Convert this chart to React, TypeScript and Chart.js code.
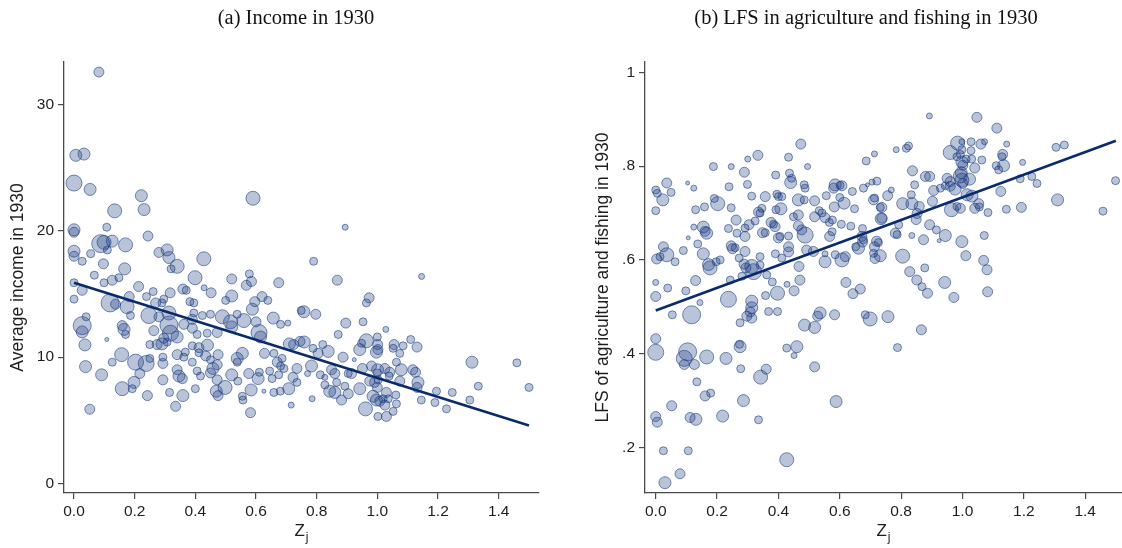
import { useEffect, useRef } from "react";
import { Chart, registerables } from "chart.js";

Chart.register(...registerables);

// Axis ticks
const Z_TICKS = [0, 0.2, 0.4, 0.6, 0.8, 1.0, 1.2, 1.4];
const INCOME_TICKS = [0, 10, 20, 30];
const LFS_TICKS = [0.2, 0.4, 0.6, 0.8, 1];

// Weighted linear fits, drawn over Z_j in [0, 1.5]
const FIT_RANGE = [0, 1.5];
const incomeFit = { intercept: 15.9, slope: -7.55 };
const lfsFit = { intercept: 0.492, slope: 0.2413 };

// [Z_j, average income in 1930, population weight]
const incomePoints: [number, number, number][] = [
  [0.082,32.6,25],[0.006,26.0,36],[0.033,26.1,36],[0.0,23.8,64],[0.053,23.3,36],[0.222,22.8,36],[0.59,22.6,49],[0.134,21.6,49],[0.231,21.7,36],[0.108,20.3,16],
  [0.0,20.1,36],[0.0,19.9,25],[0.244,19.6,25],[0.088,19.0,81],[0.099,19.1,49],[0.126,19.2,36],[0.17,18.9,49],[0.11,18.5,16],[0.0,18.4,36],[0.0,18.0,25],
  [0.027,17.6,16],[0.055,18.2,16],[0.28,18.3,25],[0.307,18.5,36],[0.313,17.9,36],[0.34,17.2,49],[0.32,17.0,16],[0.428,17.8,49],[0.097,17.4,25],[0.167,17.0,36],
  [0.067,16.5,16],[0.099,15.9,16],[0.126,16.1,25],[0.148,16.3,16],[0.399,16.3,49],[0.52,16.2,25],[0.578,16.6,16],[0.585,16.0,25],[0.568,15.7,25],[0.675,15.9,25],
  [0.0,15.9,16],[0.213,15.6,25],[0.027,15.3,25],[0.261,15.2,16],[0.317,15.1,25],[0.359,15.4,25],[0.37,15.3,16],[0.429,15.5,9],[0.452,15.1,25],[0.52,14.85,36],
  [0.5,14.5,16],[0.62,14.8,25],[0.639,14.5,16],[0.0,14.6,16],[0.119,14.3,81],[0.137,14.2,25],[0.175,14.0,49],[0.182,14.8,25],[0.239,14.8,16],[0.269,14.3,25],
  [0.29,14.3,16],[0.296,14.6,16],[0.382,14.4,16],[0.395,14.3,16],[0.588,13.8,36],[0.596,14.4,25],[0.749,13.7,16],[0.247,13.3,64],[0.28,13.2,25],[0.313,13.5,49],
  [0.313,12.55,81],[0.318,11.9,64],[0.34,11.6,36],[0.362,12.6,25],[0.39,13.0,25],[0.395,13.5,16],[0.423,13.3,16],[0.45,13.4,16],[0.489,13.2,49],[0.516,12.8,49],
  [0.52,12.4,36],[0.56,12.9,49],[0.538,13.4,16],[0.6,12.8,25],[0.657,13.1,36],[0.681,12.6,16],[0.705,12.7,9],[0.39,12.3,25],[0.406,11.8,16],[0.439,11.9,16],
  [0.472,11.95,25],[0.61,11.95,64],[0.615,11.6,36],[0.71,11.05,36],[0.724,11.0,25],[0.745,11.25,25],[0.027,12.5,81],[0.027,12.0,36],[0.04,13.2,16],[0.036,10.97,36],
  [0.108,11.4,4],[0.159,12.5,25],[0.165,12.2,36],[0.17,11.8,16],[0.186,13.3,16],[0.263,12.1,25],[0.296,11.5,25],[0.307,11.2,16],[0.25,11.0,16],[0.274,11.0,25],
  [0.29,11.05,36],[0.157,10.2,49],[0.126,9.6,16],[0.203,9.6,64],[0.238,9.5,64],[0.25,9.9,16],[0.293,9.5,25],[0.293,10.0,16],[0.34,10.2,25],[0.367,10.4,16],
  [0.362,10.0,16],[0.39,10.9,16],[0.412,10.75,25],[0.412,10.35,16],[0.434,10.1,25],[0.44,10.95,36],[0.45,9.8,16],[0.472,9.4,25],[0.475,10.2,25],[0.458,9.1,36],
  [0.39,9.6,16],[0.538,9.9,36],[0.555,10.3,36],[0.538,9.6,16],[0.628,10.3,25],[0.659,10.3,16],[0.67,9.6,25],[0.686,9.9,16],[0.692,9.1,16],[0.681,9.3,16],
  [0.735,9.1,25],[0.038,9.25,36],[0.091,8.6,36],[0.217,8.7,25],[0.293,8.2,25],[0.34,9.0,25],[0.346,8.5,36],[0.357,8.3,25],[0.417,8.5,16],[0.406,8.9,16],
  [0.45,8.75,25],[0.472,8.2,25],[0.52,8.6,36],[0.54,8.1,16],[0.576,8.7,25],[0.607,8.3,36],[0.611,8.8,16],[0.645,8.9,16],[0.653,8.3,16],[0.675,8.6,16],
  [0.722,8.4,25],[0.735,8.0,16],[0.159,7.5,49],[0.192,7.5,16],[0.198,8.0,36],[0.242,6.95,25],[0.315,7.2,16],[0.359,6.95,36],[0.4,7.5,16],[0.469,7.3,36],
  [0.475,6.95,25],[0.498,7.6,49],[0.555,6.9,16],[0.557,6.6,16],[0.584,7.4,36],[0.626,7.3,4],[0.659,7.2,16],[0.68,7.3,16],[0.708,7.5,36],[0.716,6.2,9],
  [0.335,6.1,25],[0.052,5.87,25],[0.582,5.6,25],
  [0.894,20.3,9],[0.79,17.6,16],[0.868,16.1,25],[1.146,16.4,9],[0.973,14.7,25],[0.964,14.3,16],[0.758,13.6,36],[0.797,13.4,25],[0.896,12.7,25],[0.953,12.8,16],
  [0.871,11.8,16],[1.028,12.2,9],[0.964,11.3,49],[0.948,11.1,16],[1.0,11.6,16],[1.001,11.0,25],[0.997,10.4,36],[1.002,10.6,25],[0.759,11.2,36],[0.82,11.0,16],
  [0.838,10.45,36],[0.805,10.3,25],[0.788,10.7,16],[1.055,11.0,25],[1.052,10.7,16],[1.085,10.9,16],[1.074,10.3,16],[1.11,11.4,16],[1.131,10.8,25],[0.887,10.0,25],
  [0.924,9.8,4],[0.942,10.6,36],[0.783,9.3,36],[0.77,8.7,9],[0.849,9.0,25],[0.86,8.7,25],[0.827,8.4,9],[0.915,8.7,25],[0.904,8.7,16],[0.951,9.1,25],
  [0.981,9.3,25],[1.001,9.0,36],[1.0,8.75,16],[1.025,9.1,25],[1.041,8.8,25],[1.063,9.6,16],[1.079,9.0,36],[1.117,9.0,25],[1.126,8.8,25],[1.134,8.0,36],
  [1.131,7.6,25],[1.039,8.5,16],[1.074,8.1,25],[0.975,8.1,25],[0.991,8.0,25],[1.0,7.6,25],[1.003,8.2,16],[0.827,7.8,16],[0.843,7.3,36],[0.86,7.2,36],
  [0.904,7.1,25],[0.882,6.6,25],[0.893,7.7,16],[0.942,7.5,36],[0.785,6.7,9],[0.961,5.9,49],[0.986,6.9,36],[0.997,6.6,36],[1.008,6.5,25],[1.025,6.2,25],
  [1.03,5.3,25],[1.002,5.3,16],[1.019,6.7,16],[1.036,6.7,16],[1.052,5.7,16],[1.063,6.3,16],[1.03,7.2,25],[1.061,7.0,16],[1.145,6.6,16],[1.195,7.3,16],
  [1.19,6.4,16],[1.228,5.9,16],[1.247,7.2,16],[1.305,6.6,16],[1.333,7.7,16],[1.312,9.6,36],[1.46,9.55,16],[1.5,7.6,16],[0.866,8.0,16],[0.812,8.6,16],
];

// [Z_j, LFS share in agriculture and fishing in 1930, population weight]
const lfsPoints: [number, number, number][] = [
  [0.473,0.847,25],[0.333,0.823,25],[0.3,0.815,9],[0.433,0.819,16],[0.713,0.826,9],[0.686,0.811,16],[0.188,0.799,16],[0.246,0.799,9],[0.495,0.799,9],[0.289,0.787,25],
  [0.391,0.781,16],[0.436,0.785,16],[0.443,0.774,16],[0.44,0.765,36],[0.036,0.764,25],[0.0,0.749,16],[0.005,0.742,16],[0.05,0.744,16],[0.023,0.728,36],[0.104,0.764,4],
  [0.124,0.753,9],[0.239,0.756,16],[0.299,0.761,16],[0.484,0.76,16],[0.487,0.753,16],[0.585,0.76,36],[0.607,0.758,25],[0.58,0.753,25],[0.641,0.746,16],[0.677,0.753,16],
  [0.69,0.76,4],[0.721,0.768,16],[0.705,0.766,9],[0.0,0.705,16],[0.313,0.736,16],[0.357,0.735,25],[0.395,0.74,16],[0.4,0.735,16],[0.411,0.735,16],[0.465,0.728,36],
  [0.484,0.728,16],[0.518,0.726,25],[0.556,0.737,16],[0.6,0.733,16],[0.614,0.721,36],[0.71,0.728,25],[0.713,0.732,16],[0.732,0.712,16],[0.202,0.72,49],[0.191,0.731,16],
  [0.159,0.713,16],[0.13,0.707,16],[0.246,0.711,16],[0.346,0.71,16],[0.34,0.7,16],[0.335,0.702,25],[0.408,0.709,36],[0.392,0.707,16],[0.465,0.696,25],[0.449,0.692,16],
  [0.533,0.705,16],[0.542,0.7,16],[0.518,0.692,25],[0.552,0.69,25],[0.582,0.713,25],[0.648,0.709,16],[0.576,0.685,16],[0.566,0.68,16],[0.735,0.688,36],[0.155,0.67,36],
  [0.161,0.661,25],[0.166,0.657,36],[0.124,0.67,9],[0.106,0.647,4],[0.237,0.667,16],[0.262,0.685,25],[0.265,0.657,16],[0.304,0.675,25],[0.291,0.668,16],[0.291,0.65,25],
  [0.324,0.683,16],[0.348,0.658,25],[0.357,0.658,16],[0.376,0.68,25],[0.389,0.671,25],[0.384,0.676,16],[0.4,0.647,25],[0.405,0.65,16],[0.433,0.651,16],[0.465,0.673,25],
  [0.476,0.664,25],[0.487,0.653,64],[0.567,0.65,25],[0.575,0.66,16],[0.605,0.676,16],[0.636,0.672,16],[0.674,0.667,16],[0.672,0.65,25],[0.677,0.643,16],[0.72,0.64,25],
  [0.726,0.637,16],[0.713,0.628,25],[0.715,0.603,25],[0.71,0.614,16],[0.025,0.628,25],[0.036,0.611,49],[0.003,0.602,25],[0.014,0.607,16],[0.063,0.596,16],[0.09,0.62,16],
  [0.137,0.634,16],[0.155,0.613,36],[0.172,0.59,36],[0.177,0.583,49],[0.21,0.6,16],[0.197,0.596,16],[0.246,0.63,25],[0.25,0.624,25],[0.259,0.626,16],[0.272,0.604,16],
  [0.291,0.618,25],[0.288,0.591,25],[0.294,0.583,25],[0.313,0.586,49],[0.319,0.575,64],[0.34,0.589,16],[0.34,0.607,16],[0.281,0.565,16],[0.362,0.568,16],[0.39,0.613,16],
  [0.411,0.604,16],[0.433,0.628,25],[0.433,0.617,25],[0.467,0.586,25],[0.492,0.621,25],[0.514,0.618,25],[0.552,0.596,36],[0.552,0.613,9],[0.585,0.611,16],[0.607,0.6,49],
  [0.618,0.607,25],[0.652,0.628,16],[0.661,0.625,36],[0.674,0.638,25],[0.0,0.552,9],[0.039,0.54,16],[0.098,0.534,16],[0.13,0.556,25],[0.0,0.522,25],[0.144,0.509,9],
  [0.237,0.516,64],[0.243,0.557,16],[0.38,0.553,16],[0.358,0.524,16],[0.397,0.529,49],[0.428,0.548,9],[0.451,0.534,25],[0.47,0.557,25],[0.313,0.512,36],[0.313,0.498,36],
  [0.308,0.489,25],[0.297,0.48,25],[0.313,0.476,25],[0.275,0.466,16],[0.368,0.49,16],[0.397,0.49,16],[0.054,0.483,16],[0.117,0.483,81],[0.518,0.456,36],[0.485,0.461,36],
  [0.528,0.48,25],[0.536,0.487,36],[0.583,0.483,25],[0.683,0.483,16],[0.699,0.474,49],[0.0,0.432,25],[0.0,0.403,64],[0.104,0.404,81],[0.093,0.39,64],[0.093,0.377,25],
  [0.126,0.377,25],[0.166,0.393,49],[0.229,0.39,36],[0.275,0.415,36],[0.273,0.42,16],[0.427,0.412,16],[0.46,0.415,36],[0.451,0.396,9],[0.277,0.368,16],[0.36,0.367,25],
  [0.342,0.35,49],[0.518,0.372,25],[0.134,0.34,16],[0.179,0.316,16],[0.161,0.31,25],[0.286,0.3,36],[0.588,0.298,36],[0.052,0.289,25],[0.0,0.266,25],[0.005,0.254,25],
  [0.112,0.264,25],[0.131,0.26,36],[0.218,0.267,36],[0.335,0.259,16],[0.025,0.193,16],[0.106,0.193,16],[0.427,0.174,49],[0.079,0.144,25],[0.03,0.125,36],[0.62,0.552,25],
  [0.643,0.528,25],[0.667,0.538,25],[0.851,0.557,25],[0.868,0.543,16],[0.886,0.529,25],[0.942,0.552,36],[0.972,0.52,25],[1.082,0.532,25],[0.757,0.479,36],[0.866,0.451,25],
  [0.788,0.413,16],[0.892,0.907,9],[1.047,0.904,25],[1.112,0.881,25],[0.784,0.835,9],[0.817,0.838,16],[0.824,0.843,16],[0.984,0.849,49],[0.96,0.829,49],[0.998,0.852,9],
  [1.028,0.852,16],[1.06,0.847,25],[1.072,0.852,9],[1.144,0.847,9],[1.305,0.84,16],[1.332,0.845,16],[0.998,0.835,16],[1.028,0.833,16],[0.993,0.825,16],[0.982,0.82,16],
  [1.012,0.815,16],[1.03,0.815,16],[1.131,0.825,25],[1.129,0.82,16],[1.063,0.813,16],[0.998,0.809,36],[1.001,0.802,25],[1.04,0.796,25],[1.134,0.801,36],[1.11,0.801,16],
  [1.118,0.792,16],[1.196,0.808,9],[0.837,0.79,25],[0.879,0.778,25],[0.893,0.778,25],[0.996,0.786,36],[0.993,0.779,49],[0.998,0.77,49],[1.001,0.763,25],[1.023,0.772,36],
  [0.95,0.774,25],[0.96,0.767,25],[0.944,0.758,16],[0.976,0.751,36],[0.96,0.757,25],[1.188,0.773,16],[1.226,0.778,16],[1.243,0.763,16],[0.844,0.76,16],[0.906,0.748,25],
  [0.928,0.753,16],[0.768,0.749,9],[0.756,0.737,25],[0.833,0.739,16],[0.805,0.72,36],[0.835,0.72,36],[0.859,0.714,25],[0.902,0.725,25],[1.015,0.739,36],[1.031,0.736,36],
  [1.053,0.72,25],[1.04,0.71,25],[1.055,0.713,16],[0.964,0.707,49],[0.993,0.71,25],[0.982,0.714,16],[1.125,0.746,25],[1.083,0.701,16],[1.143,0.708,16],[1.192,0.712,25],
  [1.31,0.728,36],[1.458,0.704,16],[1.499,0.769,16],[0.737,0.712,25],[0.737,0.689,25],[0.852,0.699,25],[0.849,0.686,25],[0.792,0.675,16],[0.781,0.657,25],[0.787,0.654,16],
  [0.893,0.675,25],[0.915,0.664,16],[0.944,0.652,36],[0.924,0.641,4],[0.835,0.652,9],[0.873,0.643,25],[0.732,0.609,36],[0.998,0.639,36],[1.071,0.652,16],[0.805,0.608,49],
  [1.011,0.609,25],[1.069,0.599,25],[1.08,0.579,25],[0.828,0.575,25],[0.877,0.583,16],[0.601,0.759,16],
];

const SANS = '"Liberation Sans", Arial, Helvetica, sans-serif';
const SERIF = '"Liberation Serif", "Times New Roman", serif';
const AXIS_COLOR = "#4a4a4a";
const TEXT_COLOR = "#1e1e1e";
const BUBBLE_FILL = "rgba(26, 60, 130, 0.3)";
const BUBBLE_EDGE = "rgba(26, 60, 130, 0.58)";
const FIT_COLOR = "#0a2b6b";

// Chart.js keeps at least the largest bubble radius free around the plot;
// the right panel's canvas is drawn wider and cropped so its x axis runs to the edge.
const PANEL_WIDTH = 561;
const BUBBLE_MARGIN = 10;

type PanelSpec = {
  title: string;
  titleX: number;
  yTitle: string;
  yTitleOffset: number;
  axisWidth: number;
  padRight: number;
  canvasWidth: number;
  xMin: number;
  xMax: number;
  yMin: number;
  yMax: number;
  yTicks: number[];
  formatY: (v: number) => string;
  points: [number, number, number][];
  fit: { intercept: number; slope: number };
};

const panels: PanelSpec[] = [
  {
    title: "(a) Income in 1930",
    titleX: 296,
    yTitle: "Average income in 1930",
    yTitleOffset: 8,
    axisWidth: 64,
    padRight: 22,
    canvasWidth: PANEL_WIDTH,
    xMin: -0.033,
    xMax: 1.533,
    yMin: -0.77,
    yMax: 33.4,
    yTicks: INCOME_TICKS,
    formatY: (v) => String(v),
    points: incomePoints,
    fit: incomeFit,
  },
  {
    title: "(b) LFS in agriculture and fishing in 1930",
    titleX: 305,
    yTitle: "LFS of agriculture and fishing in 1930",
    yTitleOffset: 31.5,
    axisWidth: 84,
    padRight: 0,
    canvasWidth: PANEL_WIDTH + BUBBLE_MARGIN,
    xMin: -0.035,
    xMax: 1.52,
    yMin: 0.103,
    yMax: 1.022,
    yTicks: LFS_TICKS,
    formatY: (v) => (v >= 1 ? "1" : v.toFixed(1).replace(/^0/, "")),
    points: lfsPoints,
    fit: lfsFit,
  },
];

// Panel heading and the Z_j axis label with its subscript
const panelText = {
  id: "panelText",
  afterDraw(chart: any, _args: any, opts: any) {
    const { ctx, chartArea } = chart;
    ctx.save();
    ctx.fillStyle = "#111";
    ctx.font = `20.5px ${SERIF}`;
    ctx.textAlign = "center";
    ctx.textBaseline = "middle";
    ctx.fillText(opts.title, opts.titleX, 19);

    ctx.fillStyle = TEXT_COLOR;
    ctx.textAlign = "left";
    ctx.textBaseline = "alphabetic";
    ctx.font = `17px ${SANS}`;
    const zw = ctx.measureText("Z").width;
    ctx.font = `12px ${SANS}`;
    const jw = ctx.measureText("j").width;
    const cx = (chartArea.left + chartArea.right) / 2;
    const x0 = cx - (zw + jw + 1) / 2;
    ctx.font = `17px ${SANS}`;
    ctx.fillText("Z", x0, 536);
    ctx.font = `12px ${SANS}`;
    ctx.fillText("j", x0 + zw + 1, 541);
    ctx.restore();
  },
};

function Panel({ spec }: { spec: PanelSpec }) {
  const ref = useRef<HTMLCanvasElement>(null);

  useEffect(() => {
    if (!ref.current) return;
    const fitY = (z: number) => spec.fit.intercept + spec.fit.slope * z;
    const chart = new Chart(ref.current, {
      type: "bubble",
      data: {
        datasets: [
          {
            type: "line",
            data: FIT_RANGE.map((z) => ({ x: z, y: fitY(z) })),
            borderColor: FIT_COLOR,
            borderWidth: 2.6,
            pointRadius: 0,
            fill: false,
            order: 0,
          } as any,
          {
            type: "bubble",
            data: spec.points.map(([x, y, w]) => ({ x, y, r: Math.sqrt(w) })),
            backgroundColor: BUBBLE_FILL,
            borderColor: BUBBLE_EDGE,
            borderWidth: 1,
            hoverRadius: 0,
            order: 1,
          },
        ],
      },
      options: {
        responsive: false,
        animation: false,
        events: [],
        layout: { padding: { top: 62, left: 0, right: spec.padRight, bottom: 0 } },
        plugins: {
          legend: { display: false },
          tooltip: { enabled: false },
          title: { display: false },
          panelText: { title: spec.title, titleX: spec.titleX },
        } as any,
        scales: {
          x: {
            type: "linear",
            min: spec.xMin,
            max: spec.xMax,
            afterBuildTicks: (s: any) => {
              s.ticks = Z_TICKS.map((value) => ({ value }));
            },
            afterFit: (s: any) => {
              s.height = 55;
              s.paddingLeft = 0;
              s.paddingRight = 0;
            },
            ticks: {
              callback: (v: any) => Number(v).toFixed(1),
              font: { family: SANS, size: 15.5 },
              color: TEXT_COLOR,
              padding: 3,
              maxRotation: 0,
              autoSkip: false,
            },
            grid: {
              display: true,
              drawOnChartArea: false,
              drawTicks: true,
              tickLength: 6,
              color: AXIS_COLOR,
              lineWidth: 1.2,
            },
            border: { display: true, color: AXIS_COLOR, width: 1.3 },
          },
          y: {
            type: "linear",
            min: spec.yMin,
            max: spec.yMax,
            afterBuildTicks: (s: any) => {
              s.ticks = spec.yTicks.map((value) => ({ value }));
            },
            afterFit: (s: any) => {
              s.width = spec.axisWidth;
              s.paddingTop = 0;
              s.paddingBottom = 0;
            },
            ticks: {
              callback: (v: any) => spec.formatY(Number(v)),
              font: { family: SANS, size: 15.5 },
              color: TEXT_COLOR,
              padding: 4,
              autoSkip: false,
            },
            grid: {
              display: true,
              drawOnChartArea: false,
              drawTicks: true,
              tickLength: 6,
              color: AXIS_COLOR,
              lineWidth: 1.2,
            },
            border: { display: true, color: AXIS_COLOR, width: 1.3 },
            title: {
              display: true,
              text: spec.yTitle,
              font: { family: SANS, size: 17.5 },
              color: TEXT_COLOR,
              padding: { top: spec.yTitleOffset, bottom: 0 },
            },
          },
        },
      },
      plugins: [panelText],
    });
    return () => chart.destroy();
  }, [spec]);

  return (
    <div style={{ width: PANEL_WIDTH, height: 548, overflow: "hidden", flex: "none" }}>
      <canvas ref={ref} width={spec.canvasWidth} height={548} style={{ display: "block" }} />
    </div>
  );
}

export default function App() {
  return (
    <div
      style={{
        position: "absolute",
        left: 0,
        top: 0,
        width: 1122,
        height: 548,
        display: "flex",
        background: "#fff",
        overflow: "hidden",
      }}
    >
      {panels.map((p) => (
        <Panel key={p.title} spec={p} />
      ))}
    </div>
  );
}
